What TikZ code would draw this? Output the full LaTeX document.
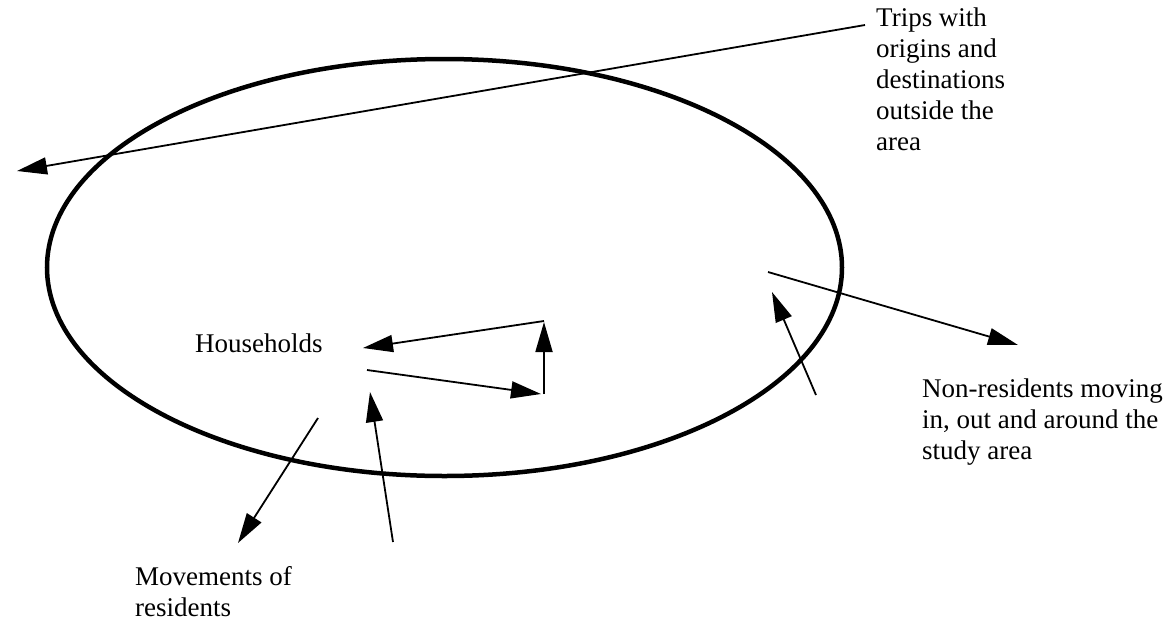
\documentclass[tikz,border=0pt]{standalone}
\usepackage{fontspec}
\setmainfont{Liberation Serif}
\usetikzlibrary{arrows.meta,shapes.geometric}
\begin{document}
\begin{tikzpicture}[x=1pt,y=-1pt,
  arr/.style={line width=1.8pt,-{Triangle[length=30pt,width=17pt]}},
  lbl/.style={inner sep=0pt,align=left,font=\fontsize{27}{31}\selectfont}]
\useasboundingbox (0,0) rectangle (1168,622);
\node[ellipse,draw,line width=4.5pt,minimum width=795pt,minimum height=417pt,inner sep=0pt] (area) at (444.5,267.5) {};
% labels
\node[lbl,anchor=north west] (trips) at (876,8) {Trips with\\origins and\\destinations\\outside the\\area};
\node[lbl,anchor=base west] (hh) at (195,352) {Households};
\node[lbl,anchor=north west] (nonres) at (922,379) {Non-residents moving\\in, out and around the\\study area};
\node[lbl,anchor=north west] (mov) at (135,566) {Movements of\\residents};
% coordinates
\coordinate (t1) at (865,25);  \coordinate (t2) at (17,171);
\coordinate (h1) at (544,321); \coordinate (h2) at (363,348);
\coordinate (h3) at (367,370); \coordinate (h4) at (541,394);
\coordinate (v1) at (544,394); \coordinate (v2) at (544,322);
\coordinate (u1) at (393,542); \coordinate (u2) at (370,392);
\coordinate (d1) at (318,418); \coordinate (d2) at (238,543);
\coordinate (r1) at (768,272); \coordinate (r2) at (1018,345);
\coordinate (s1) at (816,395); \coordinate (s2) at (772,292);
% arrows
\draw[arr] (t1) -- (t2);
\draw[arr] (h1) -- (h2);
\draw[arr] (h3) -- (h4);
\draw[arr] (v1) -- (v2);
\draw[arr] (u1) -- (u2);
\draw[arr] (d1) -- (d2);
\draw[arr] (r1) -- (r2);
\draw[arr] (s1) -- (s2);
\end{tikzpicture}
\end{document}
